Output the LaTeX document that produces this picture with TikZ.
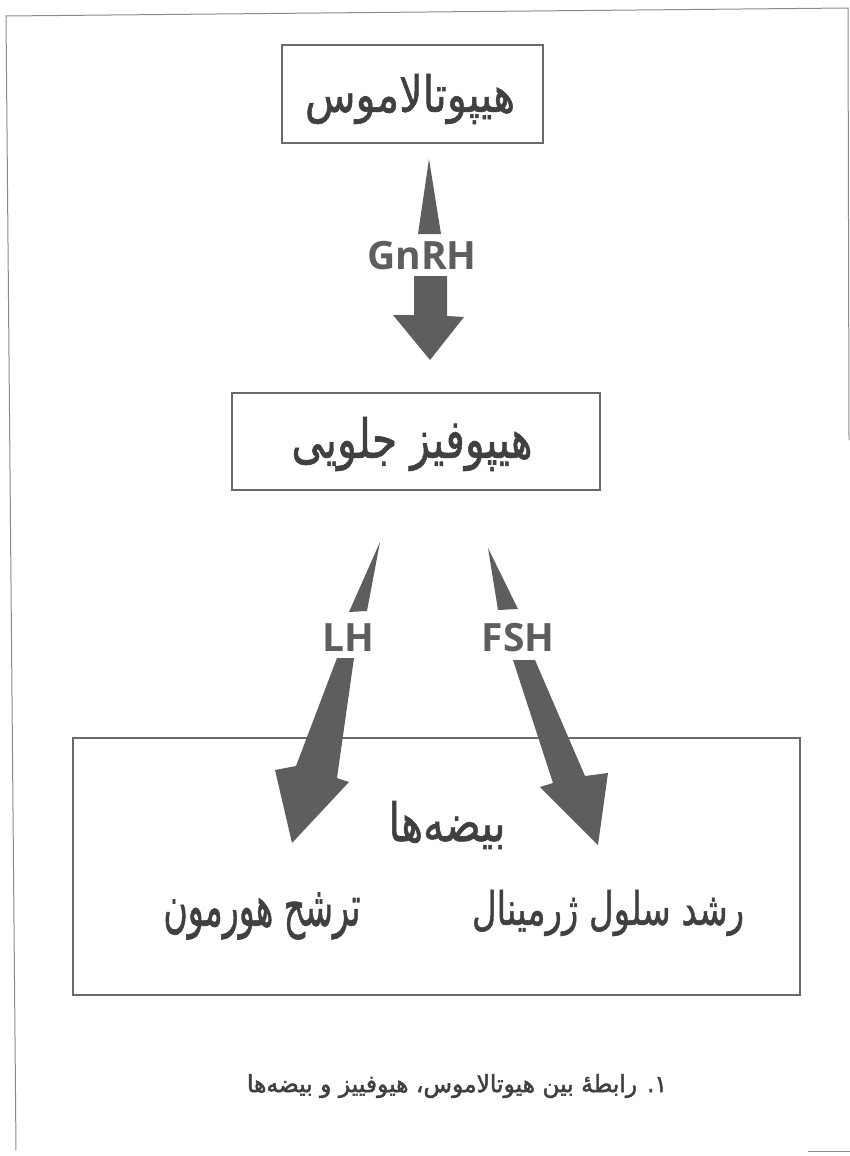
\documentclass[tikz,border=0pt]{standalone}
\usepackage{fontspec}
\usepackage{graphicx}
\TeXXeTstate=1
\newfontfamily\arabicfont[Script=Arabic,FakeBold=1.2]{DejaVu Sans}
\newfontfamily\arabicbold[Script=Arabic,FakeBold=2]{DejaVu Sans}
\newfontfamily\labelfont{Open Sans}
\definecolor{arrowgray}{HTML}{5E5E5E}
\definecolor{textgray}{HTML}{404040}
\definecolor{boxgray}{HTML}{6A6A6A}
\definecolor{framegray}{HTML}{8A8A8A}
\begin{document}
\begin{tikzpicture}[x=1pt,y=-1pt,
  box/.style={draw=boxgray, line width=1.2pt, inner sep=0pt},
  arrowfill/.style={fill=arrowgray, draw=none},
  hlabel/.style={text=arrowgray, font=\labelfont\bfseries\fontsize{39}{39}\selectfont, inner sep=0pt},
  ar/.style={text=textgray, inner sep=0pt},
  frame/.style={draw=framegray, line width=1pt}]
\useasboundingbox (0,0) rectangle (850,1156);
% outer page frame
\coordinate (f1) at (6,16);
\coordinate (f2) at (848,8);
\coordinate (f3) at (849,440);
\coordinate (f4) at (16,1150);
\coordinate (f5) at (808,1151);
\coordinate (f6) at (850,1151);
\draw[frame] (f4) -- (f1) -- (f2) -- (f3);
\draw[frame] (f5) -- (f6);
% boxes
\node[box, minimum width=261pt, minimum height=98pt] (hyp) at (412.5,94) {};
\node[ar] (hyptext) at (410,99) {\resizebox*{210pt}{50pt}{\arabicfont\beginR هیپوتالاموس\endR}};
\node[box, minimum width=368pt, minimum height=97pt] (pit) at (416,441.5) {};
\node[ar] (pittext) at (412,444) {\resizebox*{241pt}{54pt}{\arabicfont\beginR هیپوفیز جلویی\endR}};
\node[box, minimum width=727pt, minimum height=257pt] (test) at (436.5,866.5) {};
\node[ar] (testtext) at (447,825) {\resizebox*{117pt}{48pt}{\arabicfont\beginR بیضه‌ها\endR}};
\node[ar] (horm) at (262,916) {\resizebox*{197pt}{47pt}{\arabicfont\beginR ترشح هورمون\endR}};
\node[ar] (germ) at (608,913) {\resizebox*{272pt}{46pt}{\arabicfont\beginR رشد سلول ژرمینال\endR}};
% GnRH arrow
\fill[arrowfill] (429,159) -- (441,234) -- (418,234) -- cycle;
\node[hlabel] (gnrh) at (422,256) {GnRH};
\fill[arrowfill] (414,276) -- (447,276) -- (447,316) -- (464,317) -- (430,360) -- (393,315) -- (414,315) -- cycle;
% LH arrow
\fill[arrowfill] (380,542) -- (367,611) -- (349,612) -- cycle;
\node[hlabel] (lh) at (348,638) {LH};
\fill[arrowfill] (337,658) -- (354,658) -- (337,778) -- (349,782) -- (292,843) -- (275,770) -- (296,766) -- cycle;
% FSH arrow
\fill[arrowfill] (488,548) -- (518,609) -- (498,610) -- cycle;
\node[hlabel] (fsh) at (518,638) {FSH};
\fill[arrowfill] (513,660) -- (535,660) -- (585,776) -- (608,773) -- (598,845) -- (540,787) -- (553,783) -- cycle;
% caption
\node[ar] (cap) at (457,1086) {\resizebox*{420pt}{24pt}{\arabicbold\beginR ۱. رابطهٔ بین هیوتالاموس، هیوفییز و بیضه‌ها\endR}};
\end{tikzpicture}
\end{document}
